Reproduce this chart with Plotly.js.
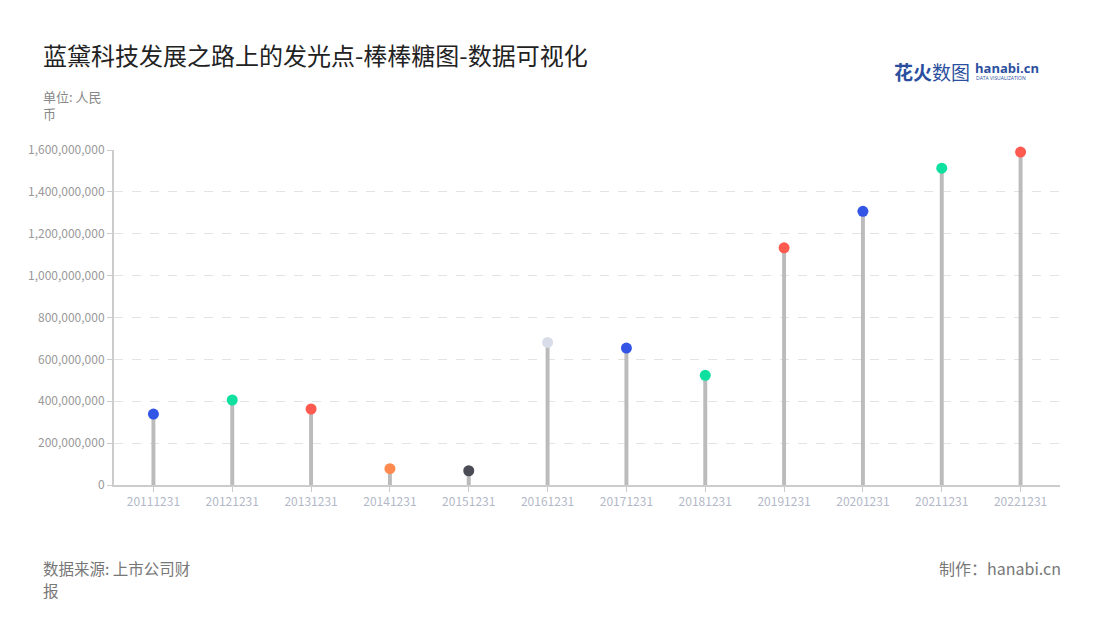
<!DOCTYPE html>
<html><head><meta charset="utf-8">
<script src="https://cdn.plot.ly/plotly-3.0.1.min.js"></script>
<style>html,body{margin:0;padding:0;background:#fff}#chart{width:1100px;height:620px}</style>
</head><body><div id="chart"></div>
<script>
const categories = ["20111231","20121231","20131231","20141231","20151231","20161231","20171231","20181231","20191231","20201231","20211231","20221231"];
const values = [339000000,406000000,363000000,78000000,68000000,681000000,654000000,524000000,1133000000,1307000000,1513000000,1590000000];
const dotColors = ["#3355e6","#0fe0a0","#ff5a4f","#ff8a50","#4b4b55","#d9dde9","#3355e6","#0fe0a0","#ff5a4f","#3355e6","#0fe0a0","#ff5a4f"];
const yTicks = [0,200000000,400000000,600000000,800000000,1000000000,1200000000,1400000000,1600000000];
const yTickText = ["0","200,000,000","400,000,000","600,000,000","800,000,000","1,000,000,000","1,200,000,000","1,400,000,000","1,600,000,000"];

const font = "'Noto Sans CJK SC','Noto Sans',sans-serif";
const traces = [
  {type:"bar", x:categories, y:values, width:0.05, marker:{color:"#bbbbbb"}, hoverinfo:"skip", showlegend:false},
  {type:"scatter", mode:"markers", x:categories, y:values, cliponaxis:false, marker:{color:dotColors, size:11}, showlegend:false}
];
const layout = {
  width:1100, height:620,
  margin:{l:114, r:40, t:150, b:135},
  paper_bgcolor:"#fff", plot_bgcolor:"#fff",
  font:{family:font},
  xaxis:{type:"category", range:[-0.5,11.5], showline:true, linecolor:"#cccccc", linewidth:2, ticks:"outside", tickcolor:"#cccccc", ticklen:5,
    tickfont:{size:12, color:"#b3b8c8"}, showgrid:false, fixedrange:true},
  yaxis:{range:[0,1600000000], tickvals:yTicks, ticktext:yTickText, showline:true, linecolor:"#cccccc", linewidth:2,
    ticks:"outside", tickcolor:"#cccccc", ticklen:5, tickfont:{size:12, color:"#999"},
    gridcolor:"#e3e3e3", griddash:"dash", zeroline:false, fixedrange:true},
  annotations:[
    {text:"蓝黛科技发展之路上的发光点-棒棒糖图-数据可视化", xref:"paper", yref:"paper", x:-0.0775, y:1.2836, xanchor:"left", yanchor:"middle", showarrow:false,
      font:{size:24, color:"#222", family:font}},
    {text:"单位: 人民<br>币", xref:"paper", yref:"paper", x:-0.0775, y:1.194, xanchor:"left", yanchor:"top", align:"left", showarrow:false,
      font:{size:13, color:"#888", family:font}},
    {text:"数据来源: 上市公司财", xref:"paper", yref:"paper", x:-0.0775, y:-0.2478, xanchor:"left", yanchor:"middle", showarrow:false,
      font:{size:15.5, color:"#777", family:font}},
    {text:"报", xref:"paper", yref:"paper", x:-0.0775, y:-0.3134, xanchor:"left", yanchor:"middle", showarrow:false,
      font:{size:15.5, color:"#777", family:font}},
    {text:"制作：hanabi.cn", xref:"paper", yref:"paper", x:1.003, y:-0.2478, xanchor:"right", yanchor:"middle", showarrow:false,
      font:{size:16, color:"#777", family:font}},
    {text:"<b>花火</b>数图", xref:"paper", yref:"paper", x:0.907, y:1.233, xanchor:"right", yanchor:"middle", showarrow:false,
      font:{size:19, color:"#2b4f9e", family:font}},
    {text:"<b>hanabi.cn</b>", xref:"paper", yref:"paper", x:0.908, y:1.245, xanchor:"left", yanchor:"middle", showarrow:false,
      font:{size:13, color:"#2b4f9e", family:"'Open Sans',sans-serif"}},
    {text:"DATA VISUALIZATION", xref:"paper", yref:"paper", x:0.909, y:1.215, xanchor:"left", yanchor:"middle", showarrow:false,
      font:{size:5, color:"#2b4f9e", family:"'Open Sans',sans-serif"}}
  ]
};
Plotly.newPlot("chart", traces, layout, {displayModeBar:false, staticPlot:true});
</script></body></html>
